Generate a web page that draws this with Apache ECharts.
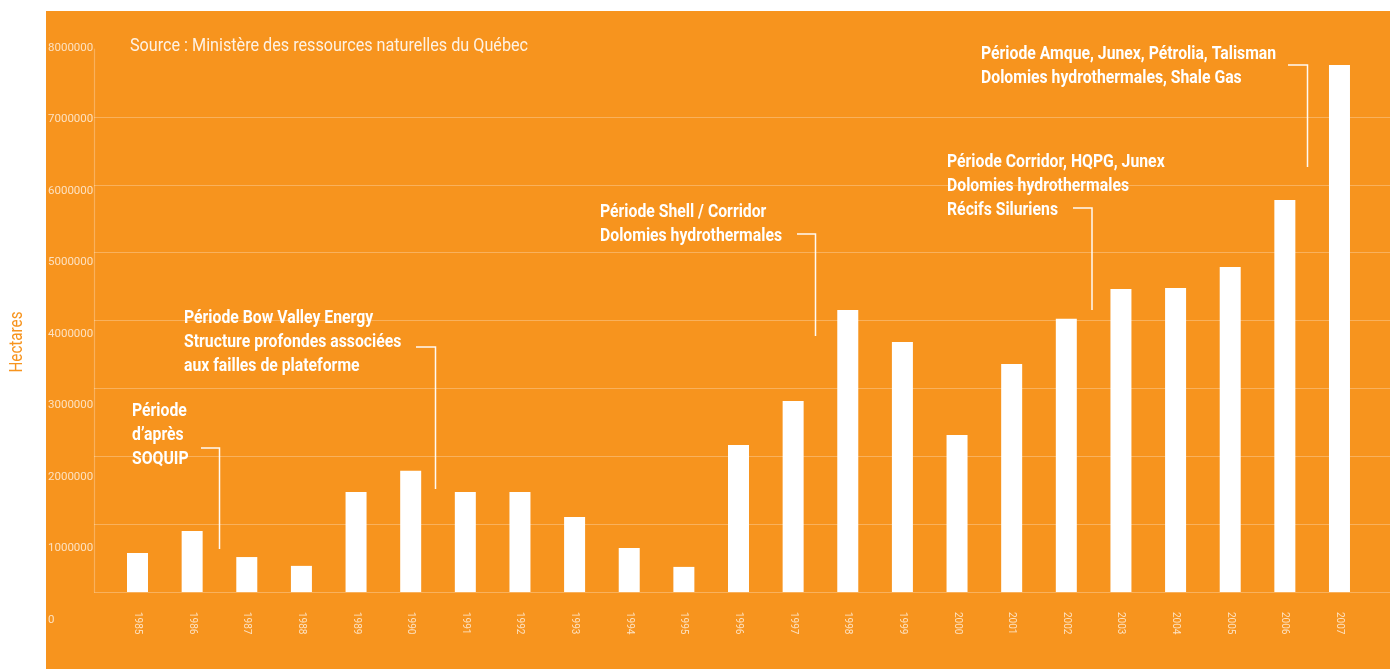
<!DOCTYPE html>
<html>
<head>
<meta charset="utf-8">
<script src="https://cdn.jsdelivr.net/npm/echarts@6/dist/echarts.min.js"></script>
<style>
html,body{margin:0;padding:0;background:#fff;}
#bg{position:absolute;left:46px;top:11px;width:1344px;height:658px;background:#F7941E;}
#chart{position:absolute;left:0;top:0;width:1390px;height:669px;}
</style>
</head>
<body>
<div id="bg"></div>
<div id="chart"></div>
<script>
const years = ['1985','1986','1987','1988','1989','1990','1991','1992','1993','1994','1995','1996','1997','1998','1999','2000','2001','2002','2003','2004','2005','2006','2007'];
const hectares = [575000, 900000, 515000, 385000, 1475000, 1785000, 1475000, 1475000, 1105000, 650000, 370000, 2165000, 2815000, 4155000, 3685000, 2315000, 3360000, 4025000, 4465000, 4480000, 4790000, 5775000, 7765000];
const yTicks = [0, 1000000, 2000000, 3000000, 4000000, 5000000, 6000000, 7000000, 8000000];
const yMax = 8000000;
const yStep = 1000000;
const sourceText = 'Source : Ministère des ressources naturelles du Québec';
const yTitle = 'Hectares';
const notes = [
  ['Période', 'd’après', 'SOQUIP'],
  ['Période Bow Valley Energy', 'Structure profondes associées', 'aux failles de plateforme'],
  ['Période Shell / Corridor', 'Dolomies hydrothermales'],
  ['Période Corridor, HQPG, Junex', 'Dolomies hydrothermales', 'Récifs Siluriens'],
  ['Période Amque, Junex, Pétrolia, Talisman', 'Dolomies hydrothermales, Shale Gas']
];

const chart = echarts.init(document.getElementById('chart'), null, {renderer: 'canvas'});
const FONT = 'Roboto, "Liberation Sans", sans-serif';
const labelColor = 'rgba(255,255,255,0.72)';
const gridColor = 'rgba(255,255,255,0.28)';

// condensed look: horizontal scale fitted to reference widths (layout only)
const mctx = document.createElement('canvas').getContext('2d');
function fitScale(text, font, width) { mctx.font = font; return width / mctx.measureText(text).width; }
const BOLD = 'bold 18.5px ' + FONT;
const REG = '19px ' + FONT;
const boldScale = fitScale('Dolomies hydrothermales', BOLD, 182);
const srcScale = fitScale(sourceText, REG, 398);
const titleFont = '18px ' + FONT;
const titleScale = fitScale(yTitle, titleFont, 61);

const notePos = [
  {x: 132, y: 411, lx1: 201, lx2: 219.5, ly: 448, ly2: 549},
  {x: 184, y: 318, lx1: 416, lx2: 435.5, ly: 347, ly2: 489},
  {x: 600, y: 212, lx1: 797, lx2: 815.5, ly: 234, ly2: 336},
  {x: 947, y: 162, lx1: 1073, lx2: 1092, ly: 208, ly2: 310},
  {x: 981, y: 54, lx1: 1288, lx2: 1307.5, ly: 65, ly2: 167}
];
const graphics = [];
notes.forEach((lines, i) => {
  const p = notePos[i];
  lines.forEach((t, j) => {
    graphics.push({type: 'text', x: p.x, y: p.y + j * 24, scaleX: boldScale,
      style: {text: t, fill: '#fff', font: BOLD, textVerticalAlign: 'middle'}});
  });
  graphics.push({type: 'polyline', shape: {points: [[p.lx1, p.ly], [p.lx2, p.ly], [p.lx2, p.ly2]]},
    style: {stroke: 'rgba(255,255,255,0.95)', lineWidth: 1.5, fill: null}});
});
graphics.push({type: 'text', x: 130, y: 46, scaleX: srcScale,
  style: {text: sourceText, fill: 'rgba(255,255,255,0.88)', font: REG, textVerticalAlign: 'middle'}});
graphics.push({type: 'text', x: 17, y: 342, rotation: Math.PI / 2, scaleX: titleScale,
  style: {text: yTitle, fill: '#F7941E', font: titleFont, textAlign: 'center', textVerticalAlign: 'middle'}});

const option = {
  backgroundColor: 'transparent',
  animation: false,
  grid: [
    {left: 110.2, right: 23.2, top: 49.1, bottom: 77},
    {left: 94, right: 0, top: 49.1, bottom: 77},
    {left: 94, right: 0, top: 48, bottom: 49}
  ],
  xAxis: [
    {type: 'category', gridIndex: 0, data: years, axisLine: {show: false}, axisTick: {show: false},
     axisLabel: {rotate: -90, margin: 20, color: labelColor, fontFamily: FONT, fontSize: 10}},
    {type: 'value', gridIndex: 1, show: false},
    {type: 'value', gridIndex: 2, show: false}
  ],
  yAxis: [
    {type: 'value', gridIndex: 0, min: 0, max: yMax, interval: yStep, show: false},
    {type: 'value', gridIndex: 1, min: 0, max: yMax, interval: yStep,
     axisLine: {show: true, lineStyle: {color: gridColor, width: 1.2}}, axisTick: {show: false}, axisLabel: {show: false},
     splitLine: {show: true, showMaxLine: false, lineStyle: {color: gridColor, width: 1.2}}},
    {type: 'value', gridIndex: 2, min: 0, max: yMax, interval: yStep,
     axisLine: {show: false}, axisTick: {show: false}, splitLine: {show: false},
     axisLabel: {show: true, align: 'left', margin: 46, color: labelColor, fontFamily: FONT, fontSize: 11.5,
       formatter: v => yTicks.includes(v) ? String(v) : ''}}
  ],
  series: [
    {type: 'bar', xAxisIndex: 0, yAxisIndex: 0, data: hectares, barWidth: 21, itemStyle: {color: '#fff'}, z: 3}
  ],
  graphic: graphics
};
chart.setOption(option);
</script>
</body>
</html>
